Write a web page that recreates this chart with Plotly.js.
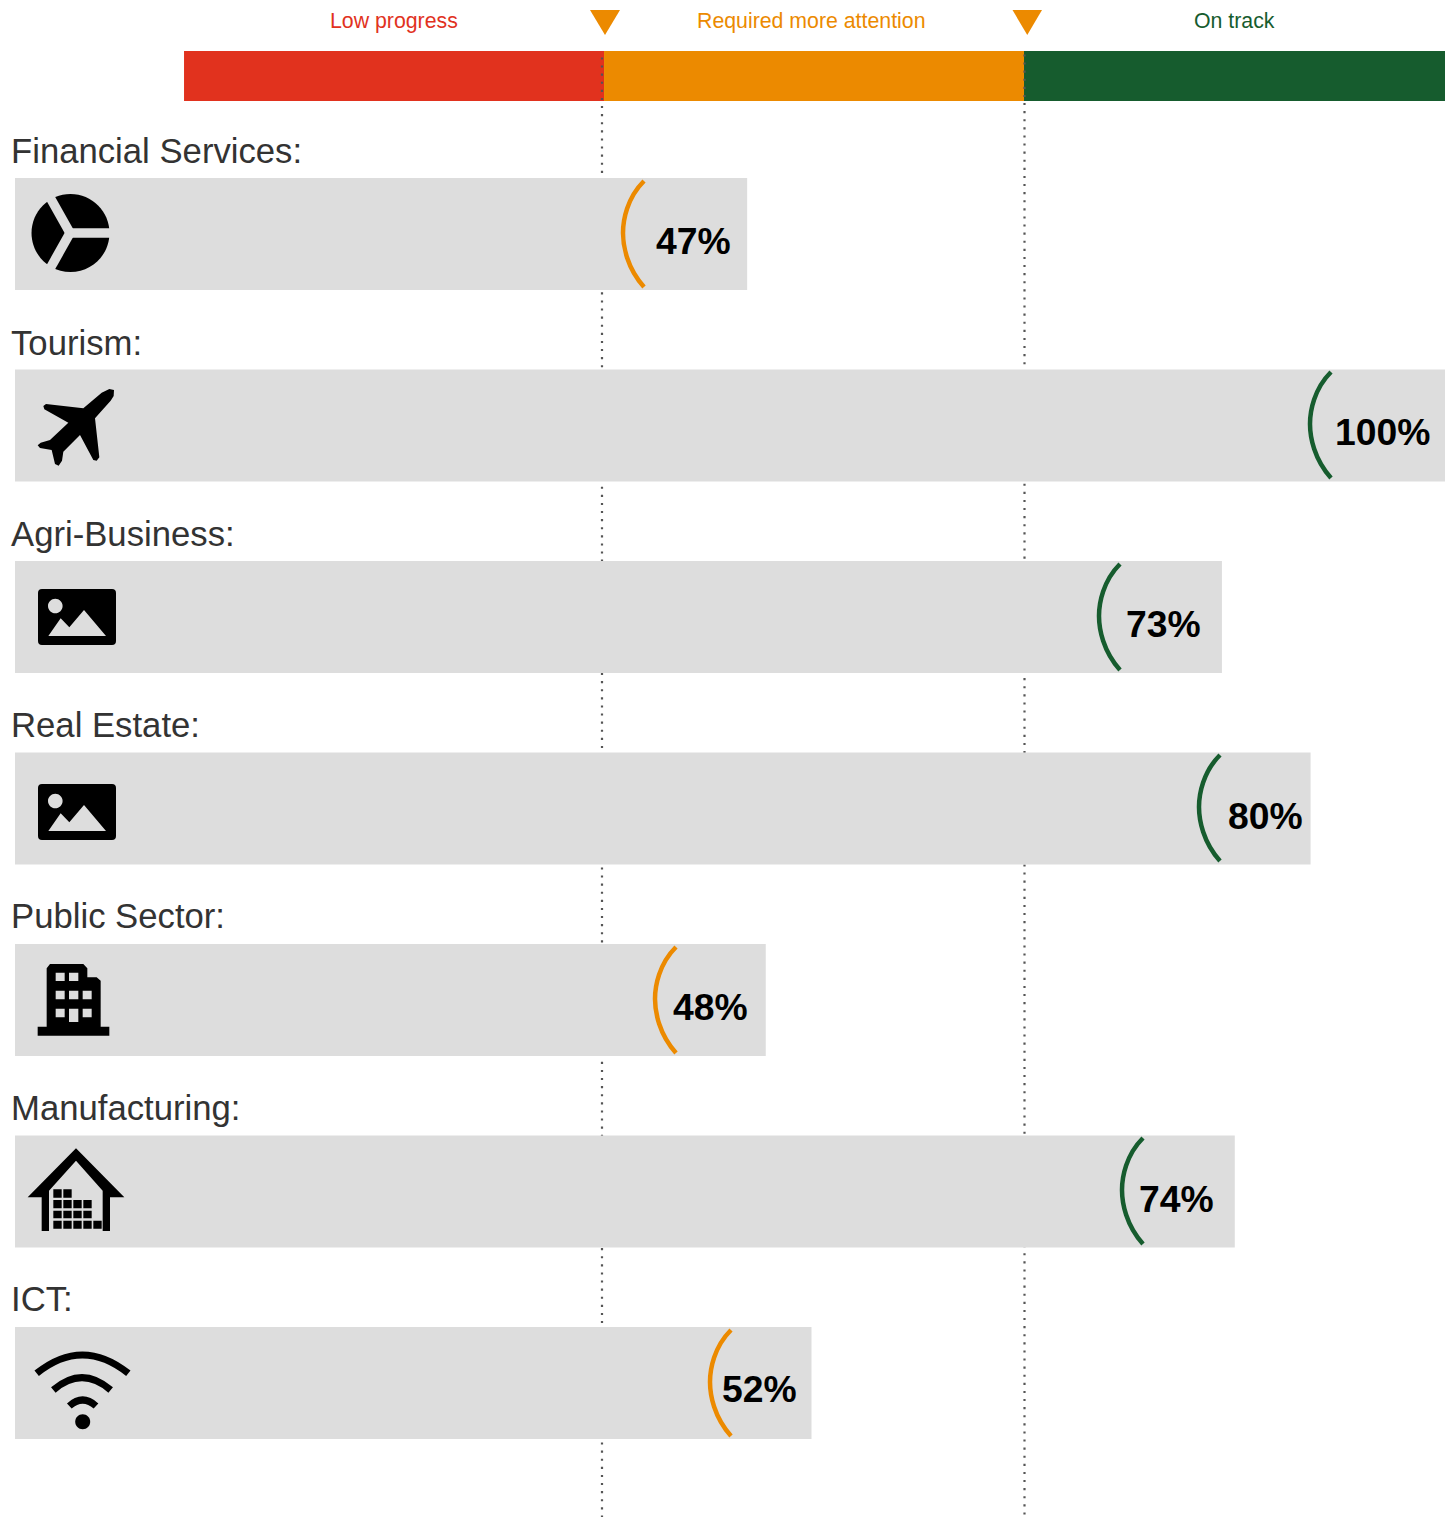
<!DOCTYPE html>
<html><head><meta charset="utf-8">
<script src="https://cdn.plot.ly/plotly-3.0.1.min.js"></script>
<style>html,body{margin:0;padding:0;background:#fff}#c{width:1456px;height:1517px}</style>
</head><body><div id="c"></div>
<script>
const categories = ["Financial Services:","Tourism:","Agri-Business:","Real Estate:","Public Sector:","Manufacturing:","ICT:"];
const percentLabels = ["47%","100%","73%","80%","48%","74%","52%"];
const barLengths = [51.2,100,84.4,90.6,52.5,85.3,55.7];
const arcColorKeys = ["mid","high","high","high","mid","high","mid"];
const arcLeftPx = [621,1308,1097,1197,653,1120,708];
const labelCenterPx = [693,1382,1163,1265,710,1176,759];
const bandNames = ["Low progress","Required more attention","On track"];
const bandBase = [11.82,41.19,70.56];
const bandWidth = [29.37,29.37,29.44];
const bandColors = ["#e1321e","#ec8a00","#165c2e"];
const bandLabelPx = [394,811,1234.5];
const thresholdPx = [602,1024.5];
const thresholdStartPx = [106,103];

const W=1456,H=1517,X0=15,PX=14.3,ROW0=234,PITCH=191.5,RH=112;
const C={mid:"#ec8a00",high:"#165c2e"};
const rowTop=i=>[178,369,561,752,944,1135,1327][i];
const p=a=>"M"+a.map(q=>q.join(",")).join("L")+"Z";
const rect=(a,b,c,d)=>p([[a,b],[c,b],[c,d],[a,d]]);
const K=0.5523;
const circ=(x,y,r)=>{const k=K*r;return `M${x-r},${y}C${x-r},${y-k} ${x-k},${y-r} ${x},${y-r}C${x+k},${y-r} ${x+r},${y-k} ${x+r},${y}C${x+r},${y+k} ${x+k},${y+r} ${x},${y+r}C${x-k},${y+r} ${x-r},${y+k} ${x-r},${y}Z`;};
const base={xref:"x2",yref:"y2"};
const shapes=[];
const fillS=(path)=>shapes.push({...base,type:"path",path,fillcolor:"#000",fillrule:"evenodd",line:{width:0},layer:"above"});
const strokeS=(path,color,w)=>shapes.push({...base,type:"path",path,fillcolor:"rgba(0,0,0,0)",line:{color,width:w},layer:"above"});
function fillSColor(path,c){shapes.push({...base,type:"path",path,fillcolor:c,line:{width:0},layer:"above"});}

// dotted threshold lines
thresholdPx.forEach((x,i)=>{
  shapes.push({...base,type:"line",x0:x,x1:x,y0:thresholdStartPx[i],y1:H,line:{color:"#555",width:2.2,dash:"2.1px,6px"},layer:"below"});
  shapes.push({...base,type:"line",x0:x,x1:x,y0:thresholdStartPx[i]-48.6,y1:101,line:{color:"#555",width:2.2,dash:"2.1px,6px"},layer:"above"});
});
// triangles
[[590,620],[1012.5,1042]].forEach(t=>fillSColor(p([[t[0],10],[t[1],10],[(t[0]+t[1])/2,35]]),"#ec8a00"));

// arcs
arcLeftPx.forEach((x,i)=>{
  const t=rowTop(i),c=C[arcColorKeys[i]];
  strokeS(`M${x+23},${t+3}C${x+6},${t+20} ${x+2},${t+42} ${x+2},${t+55}C${x+2},${t+68} ${x+6},${t+90} ${x+23},${t+109}`,c,4.5);
});

// pie icon
fillS(circ(70.5,233,39));
strokeS("M70,233L114,233",'#dddddd',9.5);
strokeS("M70,233L47,192",'#dddddd',9.5);
strokeS("M70,233L47,274",'#dddddd',9.5);

// plane icon
const z=(u,v,ox,oy)=>[ox+u/3,oy+v/3];
fillS(p([[328,57],[342,60],[341,78],[332,92],[285,145],[298,262],[290,272],[280,270],[240,195],[190,245],[186,272],[176,287],[165,282],[155,240],[120,234],[113,226],[122,218],[150,210],[205,158],[133,118],[130,108],[138,102],[250,115],[305,68]].map(q=>z(q[0],q[1],0,370))));

// picture icons
function picture(dy){
  let d=`M42,${589+dy}H112Q116,${589+dy} 116,${593+dy}V${641+dy}Q116,${645+dy} 112,${645+dy}H42Q38,${645+dy} 38,${641+dy}V${593+dy}Q38,${589+dy} 42,${589+dy}Z`;
  d+=circ(55.3,606+dy,7.3);
  d+=p([[145,798],[182,745],[208,772],[252,720],[318,798]].map(q=>z(q[0],q[1],0,370+dy)));
  fillS(d);
}
picture(0);picture(195);

// building icon
(function(){
  const o=(u,v)=>z(u,v,0,950);
  let d=p([[113,230],[140,230],[140,55],[150,42],[250,42],[262,55],[262,82],[290,82],[302,92],[302,230],[328,230],[328,257],[113,257]].map(q=>o(q[0],q[1])));
  [[167,68,194,93],[207,68,235,93],[167,122,194,148],[207,122,235,148],[248,122,275,148],[167,176,194,202],[207,176,235,216],[248,176,275,202]].forEach(r=>{
    const a=o(r[0],r[1]),b=o(r[2],r[3]);d+=rect(a[0],a[1],b[0],b[1]);
  });
  fillS(d);
})();

// warehouse icon
(function(){
  const o=(u,v)=>z(u,v,0,950);
  fillS(p([[83,742],[228,595],[373,742],[330,742],[330,843],[308,843],[308,722],[228,632],[147,722],[147,843],[125,843],[125,742]].map(q=>o(q[0],q[1]))));
  const cols=[[160,185],[190,215],[220,245],[250,275],[280,305]];
  const rows=[[718,743,2],[750,775,4],[782,805,4],[812,836,5]];
  let d="";
  rows.forEach(r=>{for(let i=0;i<r[2];i++){const a=o(cols[i][0],r[0]),b=o(cols[i][1],r[1]);d+=rect(a[0],a[1],b[0],b[1]);}});
  fillS(d);
})();

// wifi icon
(function(){
  const o=(u,v)=>z(u,v,0,1330).join(",");
  strokeS(`M${o(110,130)}Q${o(247,20)} ${o(385,130)}`,"#000",7);
  strokeS(`M${o(160,180)}Q${o(246,106)} ${o(332,180)}`,"#000",7);
  strokeS(`M${o(208,228)}Q${o(248,192)} ${o(288,228)}`,"#000",7);
  fillS(circ(82.7,1421.7,7.5));
})();

const ann=[];
const F="Liberation Sans, Arial, sans-serif";
const catY=[151,343,534,725,916,1108,1299];
const pctY=[240.5,432,623.5,815.5,1006.5,1198.5,1388.5];
categories.forEach((t,i)=>ann.push({...base,x:8.7,y:catY[i],text:t,showarrow:false,xanchor:"left",yanchor:"middle",font:{family:F,size:34.7,color:"#333333"}}));
percentLabels.forEach((t,i)=>ann.push({...base,x:labelCenterPx[i],y:pctY[i],text:"<b>"+t+"</b>",showarrow:false,xanchor:"center",yanchor:"middle",font:{family:F,size:37.3,color:"#000"}}));
bandNames.forEach((t,i)=>ann.push({...base,x:bandLabelPx[i],y:21,text:t,showarrow:false,xanchor:"center",yanchor:"middle",font:{family:F,size:21.3,color:bandColors[i]}}));

const data=[
 {type:"bar",orientation:"h",y:categories.map((c,i)=>i),x:barLengths,width:RH/PITCH,marker:{color:"#dddddd",line:{width:0}},hoverinfo:"skip",showlegend:false,name:"progress"},
 {type:"bar",orientation:"h",y:bandNames.map(()=>(76-ROW0)/PITCH),x:bandWidth,base:bandBase,width:50/PITCH,marker:{color:bandColors,line:{width:0}},hoverinfo:"skip",showlegend:false,name:"bands"},
 {type:"scatter",mode:"markers",x:[0],y:[0],xaxis:"x2",yaxis:"y2",marker:{opacity:0,size:1},hoverinfo:"skip",showlegend:false}
];
const layout={
 width:W,height:H,margin:{l:0,r:0,t:0,b:0,pad:0},paper_bgcolor:"#fff",plot_bgcolor:"rgba(0,0,0,0)",
 barmode:"overlay",showlegend:false,hovermode:false,
 xaxis:{range:[-X0/PX,(W-X0)/PX],visible:false,fixedrange:true,domain:[0,1]},
 yaxis:{range:[(H-ROW0)/PITCH,-ROW0/PITCH],visible:false,fixedrange:true,domain:[0,1]},
 xaxis2:{range:[0,W],visible:false,fixedrange:true,overlaying:"x",anchor:"y2"},
 yaxis2:{range:[H,0],visible:false,fixedrange:true,overlaying:"y",anchor:"x2"},
 shapes,annotations:ann
};
Plotly.newPlot("c",data,layout,{displayModeBar:false,staticPlot:true});
</script></body></html>
